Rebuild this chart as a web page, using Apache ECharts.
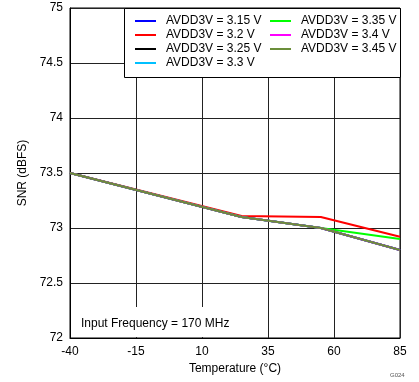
<!DOCTYPE html>
<html><head><meta charset="utf-8">
<script src="https://cdn.jsdelivr.net/npm/echarts@6/dist/echarts.min.js"></script>
<style>html,body{margin:0;padding:0;background:#fff}#c{width:419px;height:382px}</style>
</head><body><div id="c"></div>
<script>
const temps = [-40, 25, 55, 85];
const seriesNames = ['AVDD3V = 3.15 V','AVDD3V = 3.2 V','AVDD3V = 3.25 V','AVDD3V = 3.3 V','AVDD3V = 3.35 V','AVDD3V = 3.4 V','AVDD3V = 3.45 V'];
const colors = ['#0000ff','#ff0000','#000000','#00c0ff','#00ff00','#ff00ff','#6b8e3a'];
const v315 = [73.5, 73.1, 73.0, 72.8];
const v320 = [73.5, 73.11, 73.1, 72.92];
const v325 = [73.5, 73.1, 73.0, 72.8];
const v330 = [73.5, 73.1, 73.0, 72.8];
const v335 = [73.5, 73.1, 73.0, 72.9];
const v340 = [73.5, 73.1, 73.0, 72.8];
const v345 = [73.5, 73.1, 73.0, 72.8];
const values = [v315, v320, v325, v330, v335, v340, v345];
const xTicks = [-40, -15, 10, 35, 60, 85];
const yTicks = [72, 72.5, 73, 73.5, 74, 74.5, 75];

const font = 'Liberation Sans, Arial, sans-serif';
const chart = echarts.init(document.getElementById('c'));
const series = seriesNames.map((n, i) => ({
  name: n, type: 'line', showSymbol: false, symbol: 'none',
  data: temps.map((t, j) => [t, values[i][j]]),
  lineStyle: {color: colors[i], width: 2}, itemStyle: {color: colors[i]},
  emphasis: {disabled: true}, animation: false
}));
const legendCommon = {
  orient: 'vertical', icon: 'rect', itemWidth: 21, itemHeight: 2, itemGap: 2,
  textStyle: {fontFamily: font, fontSize: 12, color: '#000', padding: [0,0,0,5]},
  selectedMode: false, padding: 0, z: 10
};
chart.setOption({
  animation: false,
  grid: {left: 70, right: 19, top: 8, bottom: 44, show: true, borderColor: '#000', borderWidth: 1},
  xAxis: {
    type: 'value', min: -40, max: 85, interval: 25,
    name: 'Temperature (°C)', nameLocation: 'middle', nameGap: 25,
    nameTextStyle: {fontFamily: font, fontSize: 12, color: '#000'},
    axisLine: {show: true, onZero: false, lineStyle: {color: '#000'}}, axisTick: {show: false},
    axisLabel: {fontFamily: font, fontSize: 12, color: '#000', margin: 8},
    splitLine: {show: true, lineStyle: {color: '#222', width: 1}}
  },
  yAxis: {
    type: 'value', min: 72, max: 75, interval: 0.5,
    name: 'SNR (dBFS)', nameLocation: 'middle', nameGap: 36,
    nameTextStyle: {fontFamily: font, fontSize: 12, color: '#000'},
    axisLine: {show: true, onZero: false, lineStyle: {color: '#000'}}, axisTick: {show: false},
    axisLabel: {fontFamily: font, fontSize: 12, color: '#000', margin: 7},
    splitLine: {show: true, lineStyle: {color: '#222', width: 1}}
  },
  legend: [
    Object.assign({left: 135, top: 15, data: seriesNames.slice(0, 4)}, legendCommon),
    Object.assign({left: 270, top: 15, data: seriesNames.slice(4)}, legendCommon)
  ],
  graphic: [
    {type: 'rect', left: 124, top: 8, z: 8, shape: {width: 276, height: 69}, style: {fill: '#fff', stroke: '#000', lineWidth: 1}},
    {type: 'rect', left: 71, top: 307, z: 8, shape: {width: 180, height: 30}, style: {fill: '#fff', lineWidth: 0}},
    {type: 'text', left: 81, top: 318, z: 9, style: {text: 'Input Frequency = 170 MHz', font: '12px ' + font, fill: '#000'}},
    {type: 'text', left: 390, top: 372, style: {text: 'G024', font: '6px ' + font, fill: '#555'}}
  ],
  series: series
});
</script></body></html>
